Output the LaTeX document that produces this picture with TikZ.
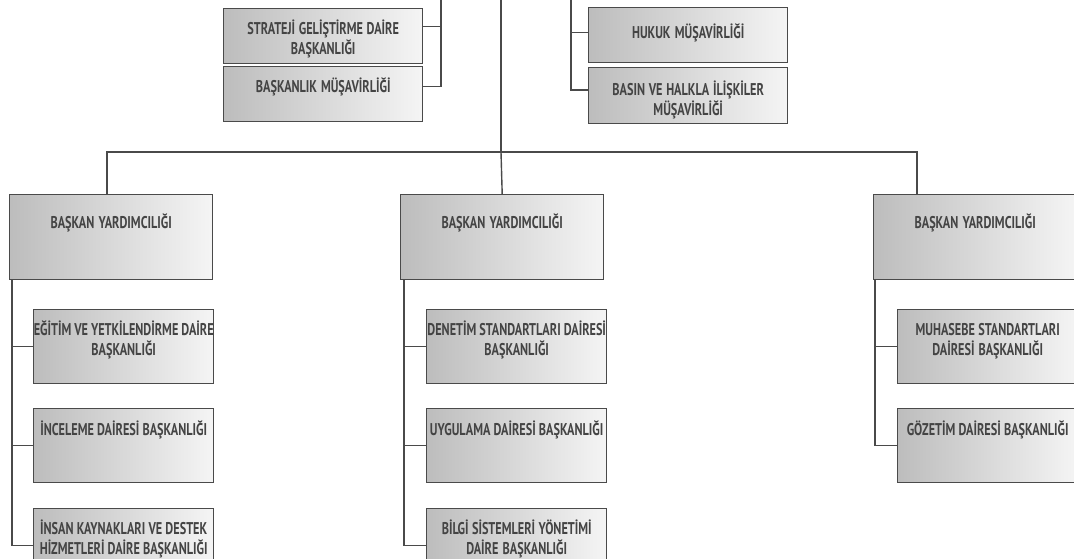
\documentclass[tikz,border=0pt]{standalone}
\usepackage{fontspec}
\setmainfont{PT Sans}[FakeStretch=0.72]
\definecolor{linegray}{HTML}{4A4A4A}
\definecolor{textgray}{HTML}{444444}
\begin{document}
\begin{tikzpicture}[x=1pt, y=-1pt,
    unit/.style={rectangle, draw=linegray, line width=1.4pt, left color=gray!52, right color=gray!8, inner xsep=0pt, inner ysep=0pt, anchor=north west, align=center, text=textgray, font=\fontsize{17}{20}\selectfont\bfseries, execute at begin node={\spaceskip=3pt plus 1pt\relax}},
    topunit/.style={unit, text width=199pt, text height=26pt, text depth=29pt},
    vpunit/.style={unit, text width=203pt, text height=33.5pt, text depth=51.5pt},
    subunit/.style={unit, text width=180pt, text height=26.5pt, text depth=47.5pt},
    link/.style={draw=linegray, line width=1.4pt}
]
    \useasboundingbox (0,0) rectangle (1074,559);
    \clip (0,0) rectangle (1074,559);
    % upper units
    \node[topunit] (sg) at (223,8) {STRATEJİ GELİŞTİRME DAİRE\\BAŞKANLIĞI};
    \node[topunit, text height=25.5pt, text depth=29.5pt] (bm) at (223,66) {BAŞKANLIK MÜŞAVİRLİĞİ};
    \node[topunit, text height=31pt, text depth=24pt] (hk) at (588,7) {HUKUK MÜŞAVİRLİĞİ};
    \node[topunit, text height=27.5pt, text depth=28.5pt] (bh) at (588,67) {BASIN VE HALKLA İLİŞKİLER\\MÜŞAVİRLİĞİ};
    % vice presidencies
    \node[vpunit] (vp1) at (9,194) {BAŞKAN YARDIMCILIĞI};
    \node[vpunit] (vp2) at (400,194) {BAŞKAN YARDIMCILIĞI};
    \node[vpunit] (vp3) at (873,194) {BAŞKAN YARDIMCILIĞI};
    % departments
    \foreach \t [count=\c from 1] in {{EĞİTİM VE YETKİLENDİRME DAİRE\\BAŞKANLIĞI}, {İNCELEME DAİRESİ BAŞKANLIĞI}, {İNSAN KAYNAKLARI VE DESTEK\\HİZMETLERİ DAİRE BAŞKANLIĞI}} {
        \node[subunit] (a\c) at (33, 308.5+\c*99.5-99.5) {\t};
    }
    \foreach \t [count=\c from 1] in {{DENETİM STANDARTLARI DAİRESİ\\BAŞKANLIĞI}, {UYGULAMA DAİRESİ BAŞKANLIĞI}, {BİLGİ SİSTEMLERİ YÖNETİMİ\\DAİRE BAŞKANLIĞI}} {
        \node[subunit] (b\c) at (426, 308.5+\c*99.5-99.5) {\t};
    }
    \foreach \t [count=\c from 1] in {{MUHASEBE STANDARTLARI\\DAİRESİ BAŞKANLIĞI}, {GÖZETİM DAİRESİ BAŞKANLIĞI}} {
        \node[subunit] (c\c) at (897, 308.5+\c*99.5-99.5) {\t};
    }
    % connectors
    \coordinate (top) at (501,0);
    \coordinate (hub) at (501,152);
    \coordinate (ltop) at (441,0);
    \coordinate (rtop) at (571,0);
    \draw[link] (top) -- (hub);
    \draw[link] ([xshift=98pt]vp1.north west) |- (hub) -| ([xshift=44pt]vp3.north west);
    \draw[link] (hub) -- (vp2.north);
    \draw[link] (ltop) |- ([yshift=7.5pt]bm.east);
    \draw[link] ([yshift=9.5pt]sg.east) -- ++(19pt,0);
    \draw[link] (rtop) |- ([yshift=5.5pt]bh.west);
    \draw[link] ([yshift=2.5pt]hk.west) -- ++(-17pt,0);
    \foreach \i in {1,2,3} {
        \draw[link] ([xshift=3pt]vp1.south west) |- (a\i.west);
        \draw[link] ([xshift=4pt]vp2.south west) |- (b\i.west);
    }
    \foreach \i in {1,2} {
        \draw[link] ([xshift=2pt]vp3.south west) |- (c\i.west);
    }
\end{tikzpicture}
\end{document}
